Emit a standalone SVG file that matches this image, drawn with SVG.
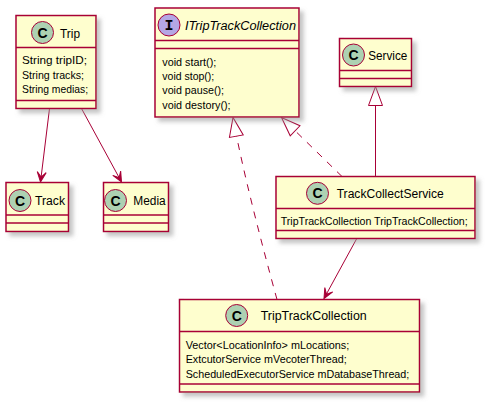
<svg xmlns="http://www.w3.org/2000/svg" width="485" height="402" viewBox="0 0 485 402">
<defs>
<filter id="sh" x="-10%" y="-10%" width="130%" height="130%">
<feGaussianBlur in="SourceAlpha" stdDeviation="2" result="b"/>
<feOffset in="b" dx="4" dy="4" result="o"/>
<feColorMatrix in="o" type="matrix" values="0 0 0 0 0.3  0 0 0 0 0.3  0 0 0 0 0.3  0 0 0 0.55 0" result="c"/>
<feMerge><feMergeNode in="c"/><feMergeNode in="SourceGraphic"/></feMerge>
</filter>
<marker id="open" markerUnits="userSpaceOnUse" viewBox="-10 -5 11 10" refX="0" refY="0" markerWidth="11" markerHeight="10" orient="auto" overflow="visible">
<path d="M0,0 L-10,-4.5 L-5,0 L-10,4.5 Z" fill="#A80036" stroke="#A80036" stroke-width="1"/>
</marker>
<marker id="tri" markerUnits="userSpaceOnUse" viewBox="-20 -8 21 16" refX="0" refY="0" markerWidth="21" markerHeight="16" orient="auto" overflow="visible">
<path d="M0,0 L-19,-7 L-19,7 Z" fill="#FFFFFF" stroke="#A80036" stroke-width="1" stroke-dasharray="none"/>
</marker>
</defs>
<style>
.box{fill:#FEFECE;stroke:#A80036;stroke-width:1.5;filter:url(#sh)}
.sep{stroke:#A80036;stroke-width:1.5}
.ci{fill:#ADD1B2;stroke:#A80036;stroke-width:1}
.ii{fill:#B4A7E5;stroke:#A80036;stroke-width:1}
.cl{font-family:"Liberation Sans",Arial,sans-serif;font-size:14px;font-weight:bold;fill:#000;text-anchor:middle}
.il{font-family:"Liberation Mono","Courier New",monospace;font-size:15px;font-weight:bold;fill:#000;text-anchor:middle}
.t{font-family:"Liberation Sans",Arial,sans-serif;font-size:12px;fill:#000}
.ti{font-family:"Liberation Sans",Arial,sans-serif;font-size:12px;font-style:italic;fill:#000}
.a{font-family:"Liberation Sans",Arial,sans-serif;font-size:11px;fill:#000}
.ln{fill:none;stroke:#A80036;stroke-width:1}
.dash{stroke-dasharray:7,7}
</style>

<g id="connectors">
<path class="ln" d="M49.5,108.5 L40.5,182" marker-end="url(#open)"/>
<path class="ln" d="M81.5,108.5 L121.5,182" marker-end="url(#open)"/>
<path class="ln" d="M356.5,239 L324,298.5" marker-end="url(#open)"/>
<path class="ln dash" d="M277,299.5 C262,245 242,168 233,117.5" marker-end="url(#tri)"/>
<path class="ln dash" d="M342,176.5 L281.5,117.5" marker-end="url(#tri)"/>
<path class="ln" d="M375.5,176.5 L375.5,86.5" marker-end="url(#tri)"/>
</g>

<g id="Trip">
<rect class="box" x="16" y="15.5" width="80" height="93"/>
<circle class="ci" cx="42.5" cy="32.5" r="11"/>
<text class="cl" x="42.5" y="37.5">C</text>
<text class="t" x="60" y="37.5" textLength="20" lengthAdjust="spacingAndGlyphs">Trip</text>
<line class="sep" x1="16" y1="47.5" x2="96" y2="47.5"/>
<text class="a" x="22" y="64.3" textLength="65" lengthAdjust="spacingAndGlyphs">String tripID;</text>
<text class="a" x="22" y="78.7" textLength="62" lengthAdjust="spacingAndGlyphs">String tracks;</text>
<text class="a" x="22" y="93.1" textLength="66" lengthAdjust="spacingAndGlyphs">String medias;</text>
<line class="sep" x1="16" y1="100.5" x2="96" y2="100.5"/>
</g>

<g id="ITripTrackCollection">
<rect class="box" x="155" y="8" width="144" height="109"/>
<circle class="ii" cx="169" cy="25" r="11"/>
<text class="il" x="169" y="30">I</text>
<text class="ti" x="185" y="29.5" textLength="111" lengthAdjust="spacingAndGlyphs">ITripTrackCollection</text>
<line class="sep" x1="155" y1="40.5" x2="299" y2="40.5"/>
<line class="sep" x1="155" y1="48.5" x2="299" y2="48.5"/>
<text class="a" x="162.3" y="65.5" textLength="54" lengthAdjust="spacingAndGlyphs">void start();</text>
<text class="a" x="162.3" y="79.9" textLength="52" lengthAdjust="spacingAndGlyphs">void stop();</text>
<text class="a" x="162.3" y="94.3" textLength="61.7" lengthAdjust="spacingAndGlyphs">void pause();</text>
<text class="a" x="162.3" y="108.7" textLength="68.3" lengthAdjust="spacingAndGlyphs">void destory();</text>
</g>

<g id="Service">
<rect class="box" x="339.5" y="38.5" width="72" height="48"/>
<circle class="ci" cx="353.5" cy="55" r="11"/>
<text class="cl" x="353.5" y="60">C</text>
<text class="t" x="368.3" y="59.5" textLength="39" lengthAdjust="spacingAndGlyphs">Service</text>
<line class="sep" x1="339.5" y1="70.5" x2="411.5" y2="70.5"/>
<line class="sep" x1="339.5" y1="78.5" x2="411.5" y2="78.5"/>
</g>

<g id="TrackCollectService">
<rect class="box" x="276" y="176.5" width="199" height="62"/>
<circle class="ci" cx="317.5" cy="193.3" r="11"/>
<text class="cl" x="317.5" y="198.3">C</text>
<text class="t" x="336.7" y="197.8" textLength="107" lengthAdjust="spacingAndGlyphs">TrackCollectService</text>
<line class="sep" x1="276" y1="208.5" x2="475" y2="208.5"/>
<text class="a" x="280.7" y="224.5" textLength="187" lengthAdjust="spacingAndGlyphs">TripTrackCollection TripTrackCollection;</text>
<line class="sep" x1="276" y1="230.5" x2="475" y2="230.5"/>
</g>

<g id="Track">
<rect class="box" x="6" y="182.5" width="62.5" height="49"/>
<circle class="ci" cx="20" cy="200.5" r="11"/>
<text class="cl" x="20" y="205.5">C</text>
<text class="t" x="35" y="204.5" textLength="30" lengthAdjust="spacingAndGlyphs">Track</text>
<line class="sep" x1="6" y1="215" x2="68.5" y2="215"/>
<line class="sep" x1="6" y1="223" x2="68.5" y2="223"/>
</g>

<g id="Media">
<rect class="box" x="103.5" y="182.5" width="65" height="49"/>
<circle class="ci" cx="115.5" cy="200.5" r="11"/>
<text class="cl" x="115.5" y="205.5">C</text>
<text class="t" x="133.3" y="204.5" textLength="32.4" lengthAdjust="spacingAndGlyphs">Media</text>
<line class="sep" x1="103.5" y1="215" x2="168.5" y2="215"/>
<line class="sep" x1="103.5" y1="223" x2="168.5" y2="223"/>
</g>

<g id="TripTrackCollection">
<rect class="box" x="179.5" y="299.5" width="240" height="92.5"/>
<circle class="ci" cx="236.7" cy="315.5" r="11"/>
<text class="cl" x="236.7" y="320.5">C</text>
<text class="t" x="260.7" y="320" textLength="106" lengthAdjust="spacingAndGlyphs">TripTrackCollection</text>
<line class="sep" x1="179.5" y1="331.5" x2="419.5" y2="331.5"/>
<text class="a" x="185.7" y="348.5" textLength="163.6" lengthAdjust="spacingAndGlyphs">Vector&lt;LocationInfo&gt; mLocations;</text>
<text class="a" x="185.7" y="363" textLength="161" lengthAdjust="spacingAndGlyphs">ExtcutorService mVecoterThread;</text>
<text class="a" x="185.7" y="377.5" textLength="223.6" lengthAdjust="spacingAndGlyphs">ScheduledExecutorService mDatabaseThread;</text>
<line class="sep" x1="179.5" y1="384" x2="419.5" y2="384"/>
</g>
</svg>
